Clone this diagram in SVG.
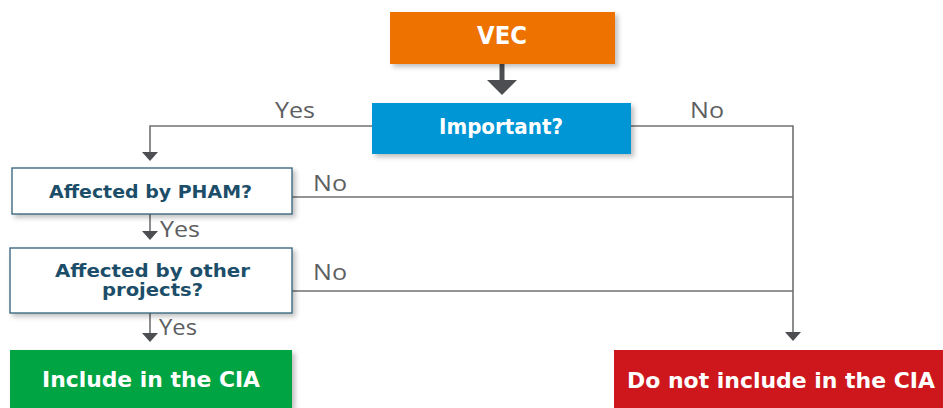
<svg xmlns="http://www.w3.org/2000/svg" width="943" height="408" viewBox="0 0 943 408">
<style>
.lbl{font-family:"Open Sans","Liberation Sans",sans-serif;font-size:21px;fill:#5d5e61;font-weight:400}
.wt{font-family:"DejaVu Sans","Open Sans",sans-serif;font-weight:700;fill:#ffffff;text-anchor:middle}
.dk{font-family:"DejaVu Sans","Open Sans",sans-serif;font-weight:700;fill:#1c4e69;text-anchor:middle;font-size:18px}
.ln{fill:none;stroke:#707173;stroke-width:1.6}
.q{fill:#ffffff;stroke:#2f6079;stroke-width:1.3}
</style>
<defs>
<filter id="sh" x="-10%" y="-20%" width="125%" height="150%">
<feDropShadow dx="3" dy="3" stdDeviation="2.5" flood-color="#000" flood-opacity="0.25"/>
</filter>
</defs>
<g id="connectors">
<path d="M502,64 L502,81" stroke="#4d4e52" stroke-width="5" fill="none"/>
<path d="M487,80 L517,80 L502,95 Z" fill="#4d4e52"/>
<path class="ln" d="M372,126 L150,126 L150,152"/>
<path d="M142,152 L158,152 L150,161 Z" fill="#4d4e52"/>
<path class="ln" d="M631,126 L793,126 L793,332"/>
<path d="M785,332 L801,332 L793,341 Z" fill="#4d4e52"/>
<path class="ln" d="M292,197 L793,197"/>
<path class="ln" d="M292,291 L793,291"/>
<path class="ln" d="M150,214 L150,231"/>
<path d="M142,231 L158,231 L150,240 Z" fill="#4d4e52"/>
<path class="ln" d="M150,313 L150,333"/>
<path d="M142,333 L158,333 L150,342 Z" fill="#4d4e52"/>
<text class="lbl" x="275" y="118" textLength="40" lengthAdjust="spacingAndGlyphs">Yes</text>
<text class="lbl" x="690" y="118" textLength="34" lengthAdjust="spacingAndGlyphs">No</text>
<text class="lbl" x="313" y="191" textLength="34" lengthAdjust="spacingAndGlyphs">No</text>
<text class="lbl" x="313" y="280" textLength="34" lengthAdjust="spacingAndGlyphs">No</text>
<text class="lbl" x="160" y="237" textLength="40" lengthAdjust="spacingAndGlyphs">Yes</text>
<text class="lbl" x="159" y="335" textLength="38" lengthAdjust="spacingAndGlyphs">Yes</text>
</g>
<g id="vec">
<rect x="390" y="12" width="225" height="52" fill="#ee7203" filter="url(#sh)"/>
<text class="wt" x="502" y="44" font-size="24" textLength="50" lengthAdjust="spacingAndGlyphs">VEC</text>
</g>
<g id="important">
<rect x="372" y="103" width="259" height="51" fill="#0096d6" filter="url(#sh)"/>
<text class="wt" x="501" y="134" font-size="21" textLength="124" lengthAdjust="spacingAndGlyphs">Important?</text>
</g>
<g id="pham">
<rect class="q" x="12" y="168" width="280" height="46" filter="url(#sh)"/>
<text class="dk" x="150.5" y="198" font-size="19" textLength="203" lengthAdjust="spacingAndGlyphs">Affected by PHAM?</text>
</g>
<g id="other">
<rect class="q" x="10" y="248" width="282" height="65" filter="url(#sh)"/>
<text class="dk" x="152.5" y="277" font-size="18" textLength="195" lengthAdjust="spacingAndGlyphs">Affected by other</text>
<text class="dk" x="152.5" y="296" font-size="18" textLength="101" lengthAdjust="spacingAndGlyphs">projects?</text>
</g>
<g id="include">
<rect x="10" y="350" width="282" height="58" fill="#00a443" filter="url(#sh)"/>
<text class="wt" x="151" y="387" font-size="21" textLength="218" lengthAdjust="spacingAndGlyphs">Include in the CIA</text>
</g>
<g id="notinclude">
<rect x="614" y="350" width="329" height="58" fill="#cd171d"/>
<text class="wt" x="781" y="388" font-size="21" textLength="308" lengthAdjust="spacingAndGlyphs">Do not include in the CIA</text>
</g>
</svg>
